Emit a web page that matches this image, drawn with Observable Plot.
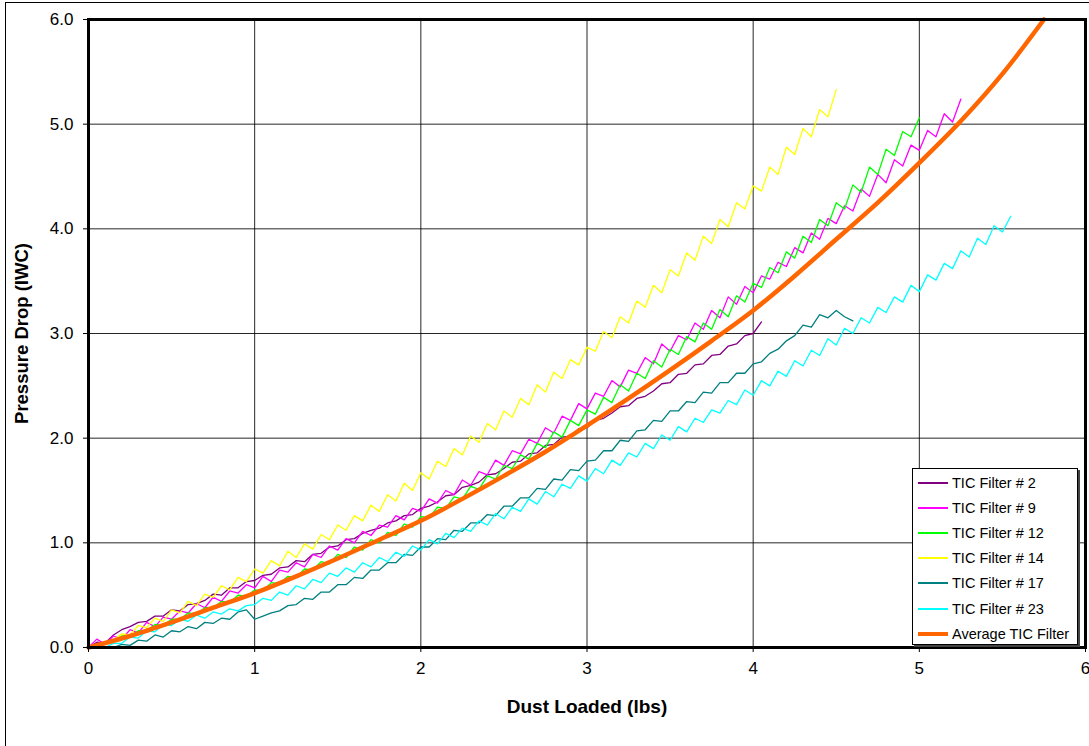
<!DOCTYPE html>
<html>
<head>
<meta charset="utf-8">
<script src="https://cdn.jsdelivr.net/npm/d3@7"></script>
<script src="https://cdn.jsdelivr.net/npm/@observablehq/plot@0.6"></script>
<style>
  html, body { margin: 0; padding: 0; background: #fff; overflow: hidden; }
  #wrap { position: relative; width: 1089px; height: 746px; font-family: "Liberation Sans", Arial, sans-serif; }
  #border { position: absolute; left: 5px; top: 2px; width: 1090px; height: 760px; border-left: 1px solid #000; border-top: 1px solid #000; pointer-events: none; }
  #legend { position: absolute; left: 912px; top: 468px; width: 166px; height: 177px; box-sizing: border-box;
            border: 1px solid #000; background: #fff; box-shadow: 2px 2px 0 #444; padding-top: 1px; }
  .row { height: 25.2px; display: flex; align-items: center; font-size: 14.5px; color: #000; white-space: nowrap; }
  .row svg { margin-left: 5px; margin-right: 4px; flex: none; }
</style>
</head>
<body>
<div id="wrap"><div id="chart"></div><div id="border"></div><div id="legend"></div></div>
<script>
// ---- data ----
const xStep = 0.05;

const seriesNames = ["TIC Filter # 2", "TIC Filter # 9", "TIC Filter # 12", "TIC Filter # 14", "TIC Filter # 17", "TIC Filter # 23"];
const seriesColors = ["#800080", "#FF00FF", "#00FF00", "#FFFF00", "#008080", "#00FFFF"];
const seriesStart = [0, 0, 0, 0.05, 0.15, 0.10];

const filter2Y = [0.00,0.05,0.04,0.12,0.17,0.20,0.24,0.25,0.30,0.30,
  0.36,0.35,0.41,0.42,0.45,0.51,0.50,0.57,0.57,0.63,
  0.64,0.69,0.70,0.76,0.77,0.83,0.82,0.89,0.90,0.96,
  0.97,1.03,1.04,1.09,1.12,1.14,1.19,1.21,1.26,1.27,
  1.33,1.35,1.39,1.45,1.46,1.53,1.55,1.58,1.65,1.66,
  1.71,1.77,1.78,1.85,1.86,1.93,1.94,2.01,2.02,2.09,
  2.10,2.17,2.19,2.24,2.30,2.31,2.38,2.40,2.45,2.52,
  2.53,2.61,2.62,2.70,2.71,2.79,2.80,2.88,2.90,2.98,
  3.00,3.11];

const filter9Y = [0.00,0.08,0.03,0.11,0.08,0.17,0.14,0.24,0.20,0.29,
  0.27,0.35,0.33,0.42,0.38,0.48,0.44,0.54,0.52,0.60,
  0.57,0.68,0.63,0.74,0.72,0.81,0.77,0.89,0.86,0.97,
  0.93,1.04,1.00,1.11,1.07,1.17,1.15,1.26,1.22,1.33,
  1.30,1.42,1.38,1.50,1.46,1.60,1.55,1.68,1.65,1.79,
  1.74,1.88,1.85,1.99,1.95,2.10,2.05,2.21,2.17,2.33,
  2.28,2.43,2.40,2.55,2.49,2.65,2.62,2.77,2.71,2.90,
  2.83,2.98,2.94,3.10,3.04,3.22,3.15,3.35,3.28,3.45,
  3.39,3.55,3.52,3.68,3.64,3.82,3.77,3.96,3.90,4.10,
  4.05,4.22,4.17,4.38,4.31,4.52,4.44,4.66,4.60,4.80,
  4.75,4.94,4.88,5.10,5.02,5.24];

const filter12Y = [0.00,0.02,0.05,0.06,0.11,0.11,0.16,0.16,0.22,0.21,
  0.27,0.27,0.33,0.32,0.38,0.38,0.44,0.43,0.50,0.49,
  0.55,0.54,0.62,0.61,0.68,0.67,0.75,0.74,0.82,0.80,
  0.89,0.86,0.96,0.93,1.03,1.00,1.10,1.07,1.18,1.15,
  1.25,1.24,1.34,1.33,1.44,1.42,1.54,1.51,1.64,1.61,
  1.74,1.71,1.84,1.80,1.95,1.91,2.06,2.01,2.17,2.12,
  2.27,2.23,2.39,2.34,2.51,2.45,2.62,2.57,2.74,2.68,
  2.85,2.80,2.97,2.92,3.10,3.04,3.23,3.16,3.36,3.30,
  3.48,3.44,3.63,3.58,3.78,3.72,3.93,3.87,4.09,4.03,
  4.25,4.19,4.42,4.35,4.59,4.52,4.76,4.70,4.93,4.88,
  5.06];

const filter14Y = [0.00,0.05,0.07,0.13,0.12,0.21,0.19,0.28,0.25,0.36,
  0.33,0.44,0.40,0.51,0.48,0.59,0.55,0.67,0.63,0.75,
  0.71,0.83,0.78,0.92,0.86,0.99,0.94,1.08,1.03,1.17,
  1.12,1.26,1.21,1.36,1.30,1.46,1.40,1.57,1.50,1.67,
  1.61,1.78,1.73,1.90,1.84,2.02,1.96,2.14,2.08,2.26,
  2.20,2.38,2.32,2.51,2.44,2.63,2.57,2.75,2.70,2.87,
  2.83,3.02,2.96,3.16,3.10,3.31,3.25,3.46,3.39,3.61,
  3.55,3.77,3.70,3.93,3.86,4.09,4.02,4.25,4.19,4.41,
  4.36,4.59,4.52,4.78,4.71,4.96,4.88,5.14,5.07,5.33];

const filter17Y = [0.00,0.03,0.02,0.07,0.06,0.12,0.10,0.16,0.15,0.20,
  0.18,0.24,0.23,0.28,0.27,0.34,0.36,0.27,0.30,0.33,
  0.35,0.40,0.41,0.47,0.46,0.53,0.53,0.60,0.60,0.67,
  0.66,0.74,0.74,0.81,0.81,0.89,0.88,0.96,0.96,1.04,
  1.03,1.12,1.11,1.19,1.19,1.27,1.26,1.35,1.35,1.43,
  1.43,1.52,1.51,1.61,1.60,1.70,1.69,1.78,1.79,1.88,
  1.88,1.98,1.97,2.07,2.08,2.17,2.16,2.26,2.26,2.35,
  2.34,2.44,2.43,2.53,2.53,2.62,2.62,2.71,2.73,2.81,
  2.85,2.93,2.98,3.08,3.06,3.18,3.15,3.22,3.16,3.12];

const filter23Y = [0.00,0.04,0.04,0.10,0.09,0.16,0.15,0.22,0.21,0.27,
  0.25,0.31,0.28,0.34,0.32,0.37,0.35,0.40,0.41,0.47,
  0.45,0.53,0.50,0.59,0.56,0.65,0.62,0.71,0.68,0.76,
  0.72,0.81,0.77,0.86,0.82,0.91,0.87,0.97,0.93,1.03,
  0.99,1.09,1.05,1.14,1.11,1.21,1.17,1.28,1.23,1.34,
  1.30,1.42,1.37,1.49,1.44,1.56,1.52,1.64,1.59,1.71,
  1.66,1.79,1.74,1.86,1.82,1.95,1.90,2.03,1.98,2.11,
  2.06,2.19,2.15,2.27,2.24,2.36,2.32,2.46,2.41,2.55,
  2.50,2.64,2.59,2.74,2.69,2.84,2.79,2.95,2.89,3.05,
  3.00,3.15,3.10,3.25,3.20,3.35,3.30,3.46,3.40,3.56,
  3.51,3.67,3.62,3.79,3.73,3.91,3.85,4.03,3.97,4.12];

const averageName = "Average TIC Filter";
const averageColor = "#FF6600";
const averageX = [0,0.25,0.5,0.75,1,1.25,1.5,1.75,2,2.25,2.5,2.75,3,3.25,3.5,3.75,4,4.25,4.5,4.75,5,5.25,5.5,5.75];
const averageY = [0,0.11,0.24,0.38,0.52,0.68,0.85,1.03,1.21,1.42,1.64,1.87,2.12,2.38,2.65,2.93,3.22,3.55,3.90,4.25,4.63,5.03,5.48,6.0];

const xTicks = [0,1,2,3,4,5,6];
const yTicks = [0,1,2,3,4,5,6];
const xTitle = "Dust Loaded (lbs)";
const yTitle = "Pressure Drop (IWC)";

// ---- build tables ----
const seriesY = [filter2Y, filter9Y, filter12Y, filter14Y, filter17Y, filter23Y];
const seriesData = seriesY.map((ys, k) => ys.map((y, i) => ({x: +(seriesStart[k] + i * xStep).toFixed(2), y})));
const avgData = averageX.map((x, i) => ({x, y: averageY[i]}));

const font = '"Liberation Sans", Arial, sans-serif';

const chart = Plot.plot({
  width: 1089,
  height: 746,
  marginLeft: 88,
  marginRight: 4,
  marginTop: 19,
  marginBottom: 99,
  style: {fontFamily: font, background: "#fff", color: "#000"},
  x: {domain: [0, 6]},
  y: {domain: [0, 6]},
  marks: [
    Plot.gridX(xTicks.slice(1, -1), {stroke: "#000", strokeOpacity: 0.85, strokeWidth: 1}),
    Plot.gridY(yTicks.slice(1, -1), {stroke: "#000", strokeOpacity: 0.85, strokeWidth: 1}),
    ...seriesData.map((d, k) => Plot.line(d, {x: "x", y: "y", stroke: seriesColors[k], strokeWidth: 1.3})),
    Plot.line(avgData, {x: "x", y: "y", stroke: averageColor, strokeWidth: 4.5, curve: "monotone-x"}),
    Plot.frame({stroke: "#000", strokeWidth: 3}),
    Plot.axisX(xTicks, {tickSize: 5, tickPadding: 9, fontSize: 17, tickFormat: d3.format("d"), label: null}),
    Plot.axisY(yTicks, {tickSize: 5, tickPadding: 10, fontSize: 17, tickFormat: d3.format(".1f"), label: null}),
    Plot.text([xTitle], {frameAnchor: "bottom", dy: 65, fontSize: 19, fontWeight: "bold", fill: "#000", textAnchor: "middle"}),
    Plot.text([yTitle], {frameAnchor: "left", dx: -66, rotate: -90, fontSize: 18.5, fontWeight: "bold", fill: "#000", textAnchor: "middle"})
  ]
});
document.getElementById("chart").appendChild(chart);

// ---- legend ----
const legend = document.getElementById("legend");
const entries = seriesNames.map((n, k) => ({name: n, color: seriesColors[k], w: 2}))
  .concat([{name: averageName, color: averageColor, w: 4}]);
for (const e of entries) {
  const row = document.createElement("div");
  row.className = "row";
  row.innerHTML = `<svg width="30" height="6"><line x1="0" x2="30" y1="3" y2="3" stroke="${e.color}" stroke-width="${e.w}"/></svg><span>${e.name}</span>`;
  legend.appendChild(row);
}
</script>
</body>
</html>
